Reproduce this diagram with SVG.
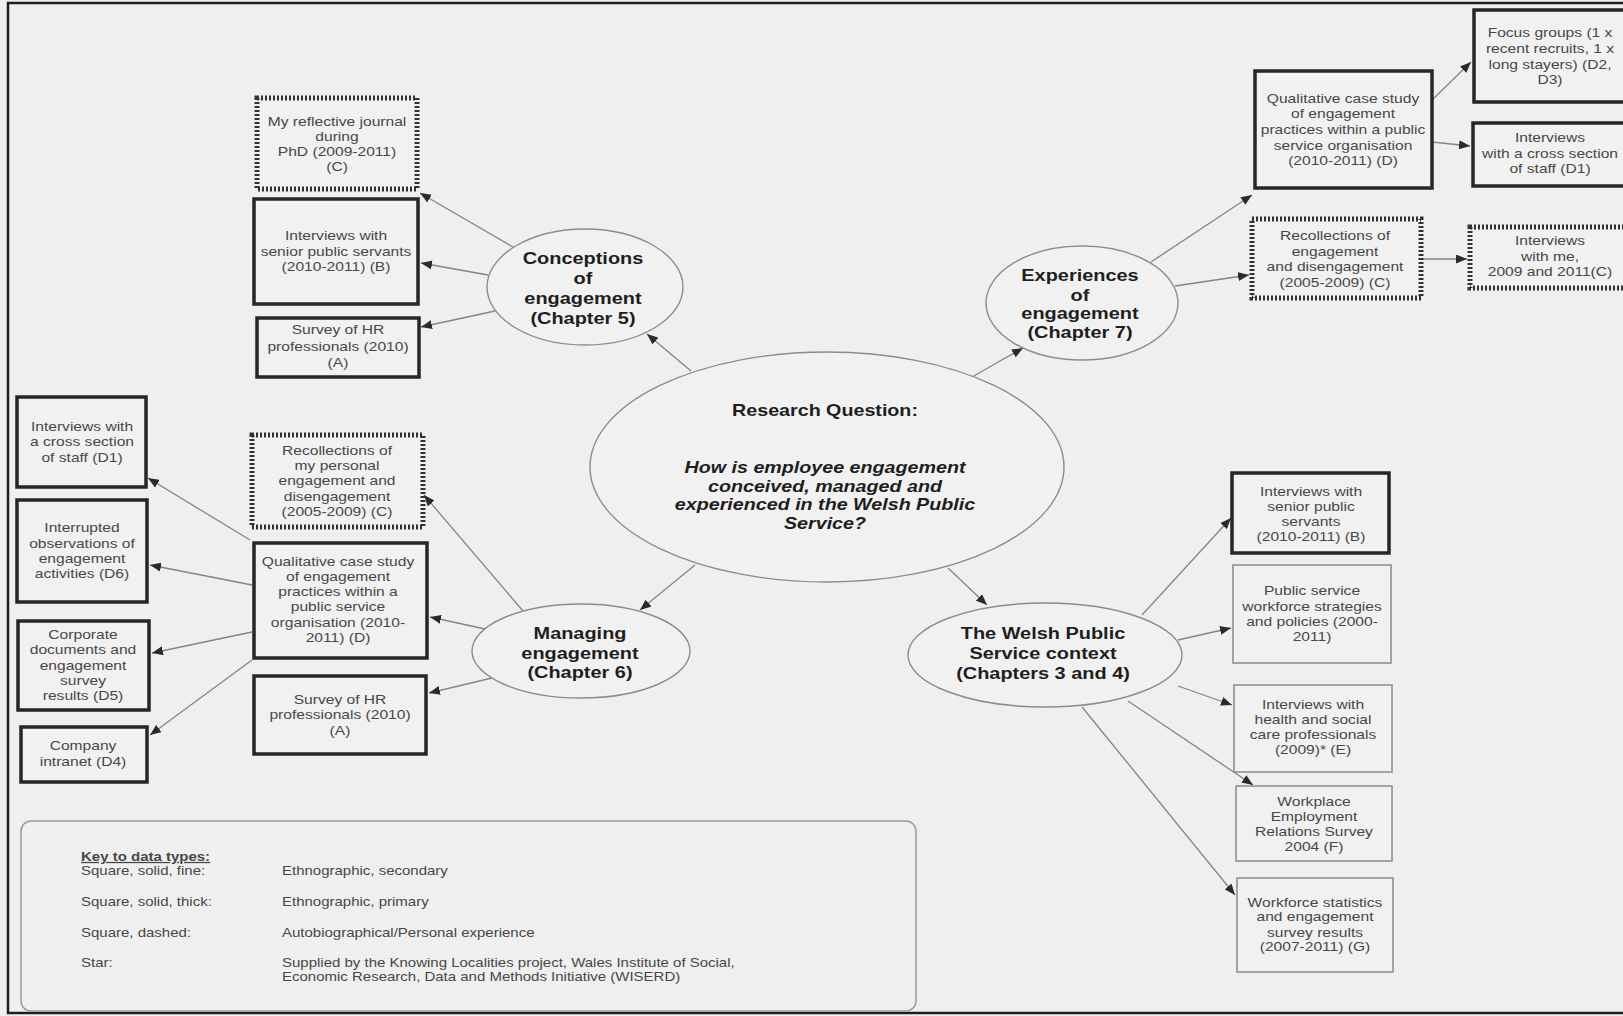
<svg xmlns="http://www.w3.org/2000/svg" width="1623" height="1016" viewBox="0 0 1623 1016">
<defs>
<marker id="ah" markerUnits="userSpaceOnUse" markerWidth="12" markerHeight="9" refX="11" refY="4.5" orient="auto">
<path d="M0,0 L11,4.5 L0,9 z" fill="#2a2a2a"/>
</marker>
<style>
.bg{fill:#efefef}
.frame{fill:none;stroke:#1e1e1e;stroke-width:2.5}
.thick{fill:#f1f1f1;stroke:#262626;stroke-width:3.5}
.fine{fill:#f1f1f1;stroke:#8a8a8a;stroke-width:1.5}
.dash{fill:#f1f1f1;stroke:#333;stroke-width:5;stroke-dasharray:2 2}
.ell{fill:#f1f1f1;stroke:#8c8c8c;stroke-width:1.4}
.edge{fill:none;stroke:#858585;stroke-width:1.3;marker-end:url(#ah)}
.bt{font-family:"Liberation Sans",Arial,sans-serif;font-size:13px;fill:#474747;text-anchor:middle}
.et{font-family:"Liberation Sans",Arial,sans-serif;font-size:16.6px;font-weight:bold;fill:#1e1e1e;text-anchor:middle}
.ct{font-family:"Liberation Sans",Arial,sans-serif;font-size:16.4px;font-weight:bold;fill:#1e1e1e;text-anchor:middle}
.lt{font-family:"Liberation Sans",Arial,sans-serif;font-size:12.5px;fill:#474747}
.legend{fill:none;stroke:#9a9a9a;stroke-width:1.5}
</style>
</defs>
<rect class="bg" x="0" y="0" width="1623" height="1016"/>
<rect class="frame" x="8" y="3" width="1625" height="1010"/>

<g id="connectors">
<line class="edge" x1="691" y1="371" x2="647" y2="334"/>
<line class="edge" x1="513" y1="247" x2="420" y2="193"/>
<line class="edge" x1="488" y1="275" x2="421" y2="263"/>
<line class="edge" x1="495" y1="311" x2="421" y2="327"/>
<line class="edge" x1="972" y1="377" x2="1023" y2="348"/>
<line class="edge" x1="1151" y1="262" x2="1252" y2="195"/>
<line class="edge" x1="1175" y1="286" x2="1249" y2="275"/>
<line class="edge" x1="1432" y1="100" x2="1471" y2="62"/>
<line class="edge" x1="1432" y1="142" x2="1470" y2="146"/>
<line class="edge" x1="1422" y1="259" x2="1467" y2="259"/>
<line class="edge" x1="695" y1="565" x2="640" y2="610"/>
<line class="edge" x1="523" y1="611" x2="424" y2="495"/>
<line class="edge" x1="485" y1="629" x2="430" y2="617"/>
<line class="edge" x1="492" y1="678" x2="429" y2="693"/>
<line class="edge" x1="250" y1="540" x2="148" y2="478"/>
<line class="edge" x1="252" y1="585" x2="150" y2="565"/>
<line class="edge" x1="252" y1="632" x2="152" y2="653"/>
<line class="edge" x1="252" y1="660" x2="150" y2="735"/>
<line class="edge" x1="948" y1="568" x2="987" y2="605"/>
<line class="edge" x1="1142" y1="615" x2="1231" y2="518"/>
<line class="edge" x1="1178" y1="640" x2="1231" y2="628"/>
<line class="edge" x1="1178" y1="686" x2="1232" y2="705"/>
<line class="edge" x1="1128" y1="701" x2="1253" y2="785"/>
<line class="edge" x1="1082" y1="707" x2="1235" y2="895"/>
</g>

<g id="n-journal">
<rect class="dash" x="257" y="98" width="160" height="91"/>
<text class="bt" transform="translate(337 0) scale(1.2 1)"><tspan x="0" y="126.5">My reflective journal</tspan><tspan x="0" y="141.5">during</tspan><tspan x="0" y="156.5">PhD (2009-2011)</tspan><tspan x="0" y="171.5">(C)</tspan></text>
</g>
<g id="n-senior1">
<rect class="thick" x="254" y="199" width="164" height="105"/>
<text class="bt" transform="translate(336 0) scale(1.2 1)"><tspan x="0" y="240.5">Interviews with</tspan><tspan x="0" y="256">senior public servants</tspan><tspan x="0" y="271.5">(2010-2011) (B)</tspan></text>
</g>
<g id="n-hr1">
<rect class="thick" x="257" y="318" width="162" height="59"/>
<text class="bt" transform="translate(338 0) scale(1.2 1)"><tspan x="0" y="334.5">Survey of HR</tspan><tspan x="0" y="351">professionals (2010)</tspan><tspan x="0" y="367.5">(A)</tspan></text>
</g>
<g id="n-conceptions">
<ellipse class="ell" cx="585" cy="287" rx="98" ry="58"/>
<text class="et" transform="translate(583 0) scale(1.2 1)"><tspan x="0" y="264">Conceptions</tspan><tspan x="0" y="284">of</tspan><tspan x="0" y="304">engagement</tspan><tspan x="0" y="324">(Chapter 5)</tspan></text>
</g>
<g id="n-central">
<ellipse class="ell" cx="827" cy="467" rx="237" ry="115"/>
<text class="ct" transform="translate(825 0) scale(1.2 1)"><tspan x="0" y="416">Research Question:</tspan></text>
<text class="ct" font-style="italic" transform="translate(825 0) scale(1.2 1)"><tspan x="0" y="473">How is employee engagement</tspan><tspan x="0" y="492">conceived, managed and</tspan><tspan x="0" y="510">experienced in the Welsh Public</tspan><tspan x="0" y="529">Service?</tspan></text>
</g>
<g id="n-experiences">
<ellipse class="ell" cx="1082" cy="303" rx="96" ry="57"/>
<text class="et" transform="translate(1080 0) scale(1.2 1)"><tspan x="0" y="281">Experiences</tspan><tspan x="0" y="301">of</tspan><tspan x="0" y="319">engagement</tspan><tspan x="0" y="338">(Chapter 7)</tspan></text>
</g>
<g id="n-qual-right">
<rect class="thick" x="1255" y="71" width="177" height="117"/>
<text class="bt" transform="translate(1343 0) scale(1.2 1)"><tspan x="0" y="103.5">Qualitative case study</tspan><tspan x="0" y="118.5">of engagement</tspan><tspan x="0" y="134.5">practices within a public</tspan><tspan x="0" y="150.5">service organisation</tspan><tspan x="0" y="165.5">(2010-2011) (D)</tspan></text>
</g>
<g id="n-focus">
<rect class="thick" x="1474" y="10" width="170" height="92"/>
<text class="bt" transform="translate(1550 0) scale(1.2 1)"><tspan x="0" y="37.5">Focus groups (1 x</tspan><tspan x="0" y="53.5">recent recruits, 1 x</tspan><tspan x="0" y="69.5">long stayers) (D2,</tspan><tspan x="0" y="84.5">D3)</tspan></text>
</g>
<g id="n-d1-right">
<rect class="thick" x="1473" y="123" width="170" height="63"/>
<text class="bt" transform="translate(1550 0) scale(1.2 1)"><tspan x="0" y="142.5">Interviews</tspan><tspan x="0" y="158.5">with a cross section</tspan><tspan x="0" y="173.5">of staff (D1)</tspan></text>
</g>
<g id="n-recoll-right">
<rect class="dash" x="1252" y="219" width="169" height="79"/>
<text class="bt" transform="translate(1335 0) scale(1.2 1)"><tspan x="0" y="240.5">Recollections of</tspan><tspan x="0" y="256.5">engagement</tspan><tspan x="0" y="271.5">and disengagement</tspan><tspan x="0" y="287.5">(2005-2009) (C)</tspan></text>
</g>
<g id="n-me">
<rect class="dash" x="1470" y="227" width="170" height="61"/>
<text class="bt" transform="translate(1550 0) scale(1.2 1)"><tspan x="0" y="245.5">Interviews</tspan><tspan x="0" y="261.5">with me,</tspan><tspan x="0" y="276.5">2009 and 2011(C)</tspan></text>
</g>
<g id="n-d1-left">
<rect class="thick" x="17" y="397" width="129" height="90"/>
<text class="bt" transform="translate(82 0) scale(1.2 1)"><tspan x="0" y="431.5">Interviews with</tspan><tspan x="0" y="446.5">a cross section</tspan><tspan x="0" y="462.5">of staff (D1)</tspan></text>
</g>
<g id="n-d6">
<rect class="thick" x="17" y="500" width="130" height="102"/>
<text class="bt" transform="translate(82 0) scale(1.2 1)"><tspan x="0" y="532.5">Interrupted</tspan><tspan x="0" y="548.5">observations of</tspan><tspan x="0" y="563.5">engagement</tspan><tspan x="0" y="578.5">activities (D6)</tspan></text>
</g>
<g id="n-d5">
<rect class="thick" x="18" y="621" width="131" height="89"/>
<text class="bt" transform="translate(83 0) scale(1.2 1)"><tspan x="0" y="639.5">Corporate</tspan><tspan x="0" y="654.5">documents and</tspan><tspan x="0" y="670.5">engagement</tspan><tspan x="0" y="685.5">survey</tspan><tspan x="0" y="700.5">results (D5)</tspan></text>
</g>
<g id="n-d4">
<rect class="thick" x="21" y="727" width="126" height="55"/>
<text class="bt" transform="translate(83 0) scale(1.2 1)"><tspan x="0" y="750.5">Company</tspan><tspan x="0" y="766.5">intranet (D4)</tspan></text>
</g>
<g id="n-recoll-left">
<rect class="dash" x="252" y="435" width="171" height="92"/>
<text class="bt" transform="translate(337 0) scale(1.2 1)"><tspan x="0" y="455.5">Recollections of</tspan><tspan x="0" y="470.5">my personal</tspan><tspan x="0" y="485.5">engagement and</tspan><tspan x="0" y="501.5">disengagement</tspan><tspan x="0" y="516.5">(2005-2009) (C)</tspan></text>
</g>
<g id="n-qual-left">
<rect class="thick" x="254" y="543" width="173" height="115"/>
<text class="bt" transform="translate(338 0) scale(1.2 1)"><tspan x="0" y="566.5">Qualitative case study</tspan><tspan x="0" y="581.5">of engagement</tspan><tspan x="0" y="596.5">practices within a</tspan><tspan x="0" y="611.5">public service</tspan><tspan x="0" y="627.5">organisation (2010-</tspan><tspan x="0" y="642.5">2011) (D)</tspan></text>
</g>
<g id="n-hr2">
<rect class="thick" x="254" y="676" width="172" height="78"/>
<text class="bt" transform="translate(340 0) scale(1.2 1)"><tspan x="0" y="704.5">Survey of HR</tspan><tspan x="0" y="719.5">professionals (2010)</tspan><tspan x="0" y="735.5">(A)</tspan></text>
</g>
<g id="n-managing">
<ellipse class="ell" cx="581" cy="651" rx="109" ry="47"/>
<text class="et" transform="translate(580 0) scale(1.2 1)"><tspan x="0" y="639">Managing</tspan><tspan x="0" y="659">engagement</tspan><tspan x="0" y="678">(Chapter 6)</tspan></text>
</g>
<g id="n-welsh">
<ellipse class="ell" cx="1045" cy="655" rx="137" ry="52"/>
<text class="et" transform="translate(1043 0) scale(1.2 1)"><tspan x="0" y="639">The Welsh Public</tspan><tspan x="0" y="659">Service context</tspan><tspan x="0" y="679">(Chapters 3 and 4)</tspan></text>
</g>
<g id="n-senior2">
<rect class="thick" x="1232" y="473" width="157" height="80"/>
<text class="bt" transform="translate(1311 0) scale(1.2 1)"><tspan x="0" y="496.5">Interviews with</tspan><tspan x="0" y="511.5">senior public</tspan><tspan x="0" y="526.5">servants</tspan><tspan x="0" y="541.5">(2010-2011) (B)</tspan></text>
</g>
<g id="n-policies">
<rect class="fine" x="1233" y="565" width="158" height="98"/>
<text class="bt" transform="translate(1312 0) scale(1.2 1)"><tspan x="0" y="595.5">Public service</tspan><tspan x="0" y="611.5">workforce strategies</tspan><tspan x="0" y="626.5">and policies (2000-</tspan><tspan x="0" y="641.5">2011)</tspan></text>
</g>
<g id="n-health">
<rect class="fine" x="1234" y="685" width="158" height="87"/>
<text class="bt" transform="translate(1313 0) scale(1.2 1)"><tspan x="0" y="709.5">Interviews with</tspan><tspan x="0" y="724.5">health and social</tspan><tspan x="0" y="739.5">care professionals</tspan><tspan x="0" y="754.5">(2009)* (E)</tspan></text>
</g>
<g id="n-wers">
<rect class="fine" x="1236" y="786" width="156" height="75"/>
<text class="bt" transform="translate(1314 0) scale(1.2 1)"><tspan x="0" y="806.5">Workplace</tspan><tspan x="0" y="821.5">Employment</tspan><tspan x="0" y="836.5">Relations Survey</tspan><tspan x="0" y="851.5">2004 (F)</tspan></text>
</g>
<g id="n-stats">
<rect class="fine" x="1237" y="878" width="156" height="94"/>
<text class="bt" transform="translate(1315 0) scale(1.2 1)"><tspan x="0" y="907.5">Workforce statistics</tspan><tspan x="0" y="921.5">and engagement</tspan><tspan x="0" y="937.5">survey results</tspan><tspan x="0" y="951.5">(2007-2011) (G)</tspan></text>
</g>

<g id="legend">
<rect class="legend" x="21" y="821" width="895" height="190" rx="10"/>
<text class="lt" font-weight="bold" text-decoration="underline" transform="translate(81 0) scale(1.2 1)" x="0" y="861">Key to data types:</text>
<text class="lt" transform="translate(81 0) scale(1.2 1)"><tspan x="0" y="875">Square, solid, fine:</tspan><tspan x="0" y="906">Square, solid, thick:</tspan><tspan x="0" y="937">Square, dashed:</tspan><tspan x="0" y="967">Star:</tspan></text>
<text class="lt" transform="translate(282 0) scale(1.2 1)"><tspan x="0" y="875">Ethnographic, secondary</tspan><tspan x="0" y="906">Ethnographic, primary</tspan><tspan x="0" y="937">Autobiographical/Personal experience</tspan><tspan x="0" y="967">Supplied by the Knowing Localities project, Wales Institute of Social,</tspan><tspan x="0" y="981">Economic Research, Data and Methods Initiative (WISERD)</tspan></text>
</g>
</svg>
